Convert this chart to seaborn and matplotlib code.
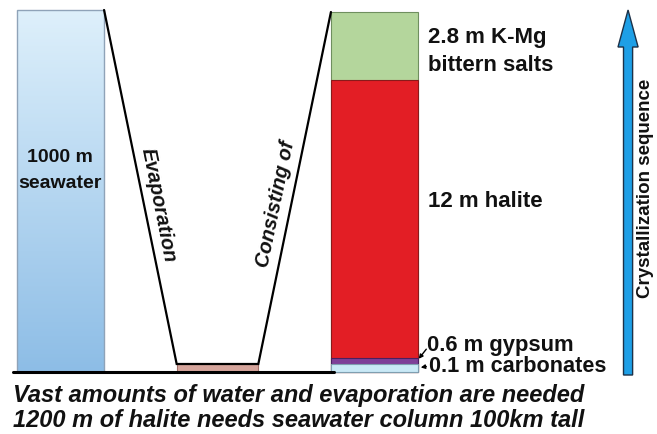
import numpy as np
import seaborn as sns
import matplotlib.pyplot as plt
from matplotlib.patches import FancyArrow
from matplotlib.colors import LinearSegmentedColormap

# data
columns = ["seawater", "residue", "salts"]
seawater_m = 1000
seawater_height = 362          # schematic column height (not to scale)
residue_height = 8
layers = ["carbonates", "gypsum", "halite", "K-Mg bittern salts"]
layer_m = [0.1, 0.6, 12, 2.8]
layer_height = [8, 6, 278, 68]  # schematic heights
layer_colors = ["#c9e9f6", "#7e3f98", "#e31e25", "#b4d69c"]
layer_edges = ["#7f9fb0", "#4a2060", "#8a1a1a", "#6f8f5f"]

sns.set_style("white")
plt.rcParams['font.family'] = ['Liberation Sans', 'DejaVu Sans']

fig = plt.figure(figsize=(6.57, 4.34), dpi=100)
ax = fig.add_axes([0, 0, 1, 1])

W = 0.555
# seawater column (gradient fill clipped to the bar)
sns.barplot(x=["seawater"], y=[seawater_height], order=columns, color="#b8daf3",
            saturation=1, width=W, edgecolor="#8fa3b8", linewidth=1, errorbar=None, ax=ax)
sea_patch = ax.patches[-1]
grad = np.linspace(0, 1, 256).reshape(-1, 1)
cmap = LinearSegmentedColormap.from_list("sea", ["#8dbde6", "#def0fb"])
im = ax.imshow(grad, cmap=cmap, origin="lower", aspect="auto",
               extent=[-W / 2, W / 2, 0, seawater_height], zorder=sea_patch.get_zorder() - 0.1)
im.set_clip_path(sea_patch)
sea_patch.set_facecolor("none")

# evaporite residue
sns.barplot(x=["residue"], y=[residue_height], order=columns, color="#d6a59c",
            saturation=1, width=0.52, edgecolor="#a07068", linewidth=0.8, errorbar=None, ax=ax)

# stacked salt column, drawn tallest first
tops = np.cumsum(layer_height)
for top, c, ec in list(zip(tops, layer_colors, layer_edges))[::-1]:
    sns.barplot(x=["salts"], y=[top], order=columns, color=c, saturation=1,
                width=W, edgecolor=ec, linewidth=0.8, errorbar=None, ax=ax)

# funnel lines
xs = [W / 2, 1 - 0.26, 1 + 0.26, 2 - W / 2]
ys = [seawater_height, residue_height, residue_height, tops[-1]]
ax.plot(xs, ys, color="black", lw=1.6, solid_joinstyle="miter", zorder=5)
ax.plot([-0.30, 2 - W / 2 + 0.02], [0, 0], color="black", lw=2.2, zorder=5)

# crystallization arrow
ax.add_patch(FancyArrow(3.615, -3, 0, 365, width=0.058, head_width=0.128, head_length=37,
                        length_includes_head=True, fc="#1e9fe6", ec="#1c3148", lw=1, zorder=5))

ax.set_xlim(-60.5 / 157, (657 - 60.5) / 157)
ax.set_ylim(-62, 372)
ax.axis("off")


def fp(x, y):
    return x / 657, 1 - y / 434


bold = dict(fontweight="bold", color="#111111")
fig.text(*fp(60, 162), f"{seawater_m} m", ha="center", va="baseline", fontsize=14, **bold)
fig.text(*fp(60, 188), "seawater", ha="center", va="baseline", fontsize=14, **bold)

fig.text(*fp(158, 205), "Evaporation", rotation=-78.7, rotation_mode="anchor",
         ha="center", va="center", fontsize=14.5, fontstyle="italic", **bold)
fig.text(*fp(276, 204), "Consisting of", rotation=78.3, rotation_mode="anchor",
         ha="center", va="center", fontsize=14.5, fontstyle="italic", **bold)

fig.text(*fp(428, 43), f"{layer_m[3]:g} m K-Mg", va="baseline", fontsize=16, **bold)
fig.text(*fp(428, 71), "bittern salts", va="baseline", fontsize=16, **bold)
fig.text(*fp(428, 207), f"{layer_m[2]:g} m {layers[2]}", va="baseline", fontsize=16, **bold)
fig.text(*fp(427, 351), f"{layer_m[1]:g} m {layers[1]}", va="baseline", fontsize=15.8, **bold)
fig.text(*fp(429, 372), f"{layer_m[0]:g} m {layers[0]}", va="baseline", fontsize=15.6, **bold)

ax.annotate("", xy=(417, 434 - 361), xytext=(428, 434 - 347), xycoords="figure pixels",
            arrowprops=dict(arrowstyle="-|>", lw=1, color="black", mutation_scale=6))
ax.annotate("", xy=(418, 434 - 368), xytext=(429, 434 - 366), xycoords="figure pixels",
            arrowprops=dict(arrowstyle="-|>", lw=1, color="black", mutation_scale=6))

fig.text(*fp(645, 188), "Crystallization sequence", rotation=90, ha="center", va="center",
         fontsize=13.5, **bold)

fig.text(*fp(13, 402), "Vast amounts of water and evaporation are needed", va="baseline",
         fontsize=17, fontstyle="italic", **bold)
fig.text(*fp(13, 427), "1200 m of halite needs seawater column 100km tall", va="baseline",
         fontsize=17, fontstyle="italic", **bold)

fig.savefig("out.png", dpi=100)
